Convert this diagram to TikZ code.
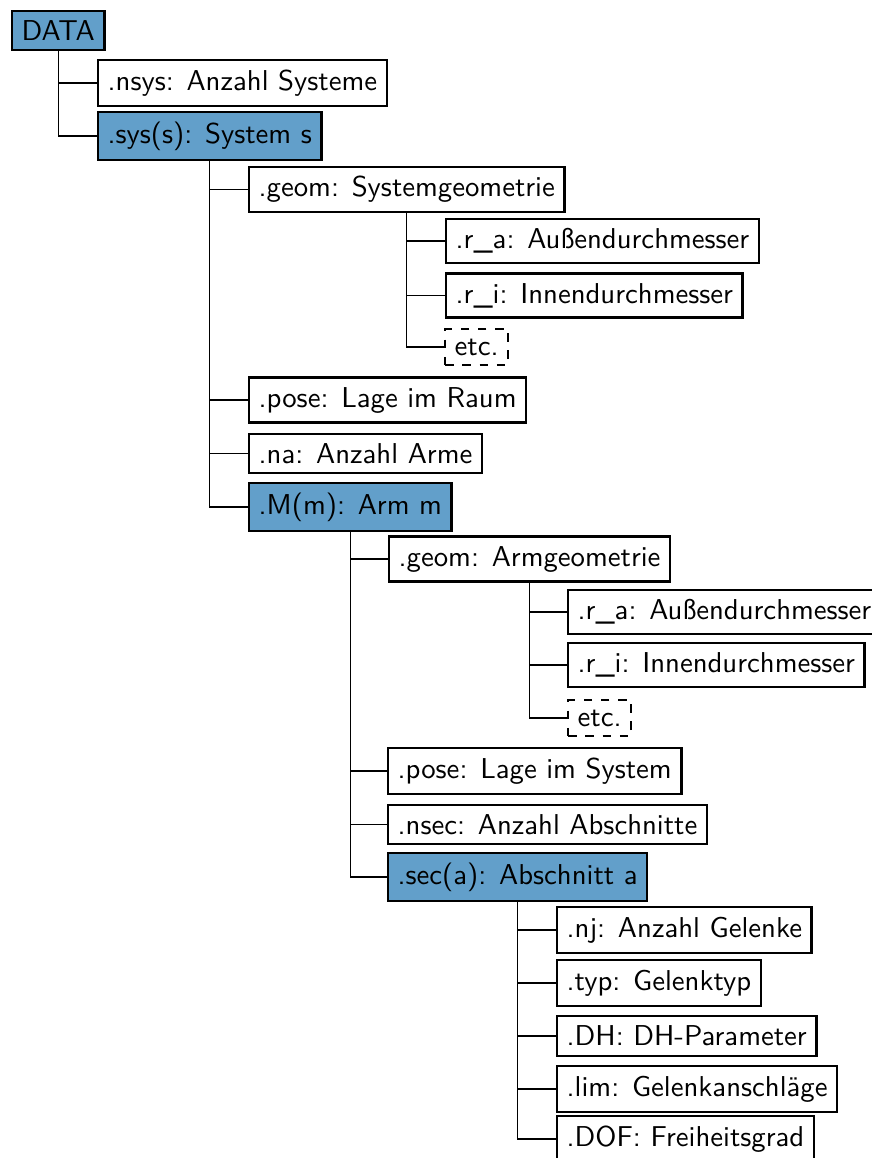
\documentclass[tikz,border=0pt]{standalone}
\usepackage{tikz}

\definecolor{boxblue}{RGB}{98,159,202}

\begin{document}
\begin{tikzpicture}[x=0.348pt,y=-0.348pt,
    every node/.style={font=\sffamily},
    field/.style={draw,thick,anchor=west},
    struct/.style={field,fill=boxblue},
    more/.style={field,dashed},
    conn/.style={thin}]
    \useasboundingbox (0,0) rectangle (872,1158);
    % top level
    \node[struct] (data) at (11,30.5) {DATA};
    \node[field] (nsys) at (97,83) {.nsys: Anzahl Systeme};
    \node[struct] (sys) at (97,136) {.sys(s): System s};
    % system
    \node[field] (sgeom) at (248,189.5) {.geom: Systemgeometrie};
    \node[field] (sra) at (445,241) {.r\_a: Außendurchmesser};
    \node[field] (sri) at (445,295.5) {.r\_i: Innendurchmesser};
    \node[more] (setc) at (444,347) {etc.};
    \node[field] (spose) at (248,400) {.pose: Lage im Raum};
    \node[field] (na) at (248,453.5) {.na: Anzahl Arme};
    \node[struct] (arm) at (248,507) {.M(m): Arm m};
    % arm
    \node[field] (ageom) at (388,559) {.geom: Armgeometrie};
    \node[field] (ara) at (567,612) {.r\_a: Außendurchmesser};
    \node[field] (ari) at (567,665) {.r\_i: Innendurchmesser};
    \node[more] (aetc) at (567,718) {etc.};
    \node[field] (apose) at (387,771) {.pose: Lage im System};
    \node[field] (nsec) at (387,824.5) {.nsec: Anzahl Abschnitte};
    \node[struct] (sec) at (387,877) {.sec(a): Abschnitt a};
    % section
    \node[field] (nj) at (556,930) {.nj: Anzahl Gelenke};
    \node[field] (typ) at (556,983) {.typ: Gelenktyp};
    \node[field] (dh) at (556,1036) {.DH: DH-Parameter};
    \node[field] (lim) at (556,1089) {.lim: Gelenkanschläge};
    \node[field] (dof) at (556,1139) {.DOF: Freiheitsgrad};
    \foreach \p/\c in {data/nsys,data/sys,sys/sgeom,sgeom/sra,sgeom/sri,sgeom/setc,
        sys/spose,sys/na,sys/arm,arm/ageom,ageom/ara,ageom/ari,ageom/aetc,
        arm/apose,arm/nsec,arm/sec,sec/nj,sec/typ,sec/dh,sec/lim,sec/dof}
        \draw[conn] (\p.south) |- (\c.west);
\end{tikzpicture}
\end{document}
